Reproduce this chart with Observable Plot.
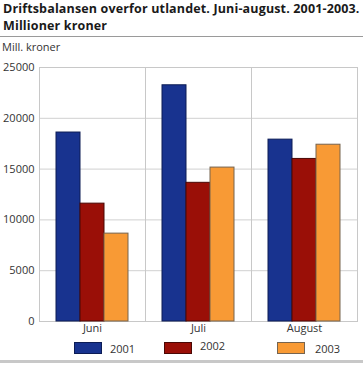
<!DOCTYPE html>
<html>
<head>
<meta charset="utf-8">
<script src="https://cdn.jsdelivr.net/npm/d3@7"></script>
<script src="https://cdn.jsdelivr.net/npm/@observablehq/plot@0.6"></script>
<style>
  html, body { margin: 0; padding: 0; background: #fff; }
  body { width: 363px; height: 371px; position: relative; overflow: hidden; font-family: "Open Sans", sans-serif; color: #222; }
  .title { position: absolute; left: 3px; font-weight: bold; font-size: 12.5px; letter-spacing: 0.15px; line-height: 15px; height: 15px; color: #1a1a1a; white-space: nowrap; }
  #rule { position: absolute; left: 0; top: 36px; width: 363px; height: 1px; background: #9a9a9a; }
  #unit { position: absolute; left: 2px; top: 39px; font-size: 11px; color: #333; }
  #chart { position: absolute; left: 0; top: 55px; }
  .sw { position: absolute; width: 26px; height: 10px; border: 1px solid; top: 342px; }
  .lab { position: absolute; font-size: 11px; top: 340px; color: #333; }
  #bottom { position: absolute; left: 0; top: 360px; width: 363px; height: 3px; background: #c8c8c8; }
</style>
</head>
<body>
<div class="title" style="top:1px">Driftsbalansen overfor utlandet. Juni-august. 2001-2003.</div>
<div class="title" style="top:18px">Millioner kroner</div>
<div id="rule"></div>
<div id="unit">Mill. kroner</div>
<div id="chart"></div>
<div id="legend"></div>
<div id="bottom"></div>
<script>
const months = ["Juni", "Juli", "August"];
const years = ["2001", "2002", "2003"];
const v2001 = [18600, 23250, 17900];
const v2002 = [11600, 13650, 16000];
const v2003 = [8650, 15150, 17400];
const yTicks = [0, 5000, 10000, 15000, 20000, 25000];
const fills = ["#18338f", "#9a0f07", "#f89a35"];
const strokes = ["#0c1c55", "#4a0805", "#76644f"];

const series = [v2001, v2002, v2003];
const data = [];
months.forEach((m, i) => years.forEach((y, j) => data.push({month: m, year: y, value: series[j][i]})));

const plot = Plot.plot({
  width: 363,
  height: 285,
  marginTop: 12,
  marginBottom: 19,
  marginLeft: 38,
  marginRight: 5,
  style: {fontFamily: "Open Sans, sans-serif", fontSize: "11px", color: "#333", background: "#fff"},
  fx: {domain: months, padding: 0, label: null, axis: "bottom", tickSize: 0, tickPadding: 3},
  x: {domain: years, paddingInner: 0, paddingOuter: 0.633, axis: null},
  y: {domain: [0, 25000], ticks: yTicks, tickSize: 0, tickPadding: 5, label: null, tickFormat: d => String(d)},
  color: {domain: years, range: fills},
  marks: [
    Plot.gridY(yTicks, {stroke: "#d0d0d0", strokeOpacity: 1}),
    Plot.frame({stroke: "#c8c8c8"}),
    Plot.barY(data, {fx: "month", x: "year", y: "value", fill: "year", stroke: d => strokes[years.indexOf(d.year)], strokeWidth: 1, inset: 0})
  ]
});
document.getElementById("chart").appendChild(plot);

const legend = document.getElementById("legend");
const swX = [74, 164, 277];
const labX = [110, 200, 315];
years.forEach((y, j) => {
  const s = document.createElement("div");
  s.className = "sw";
  s.style.left = swX[j] + "px";
  s.style.background = fills[j];
  s.style.borderColor = strokes[j];
  legend.appendChild(s);
  const l = document.createElement("div");
  l.className = "lab";
  l.style.left = labX[j] + "px";
  l.style.top = (j === 1 ? 338 : 341) + "px";
  l.textContent = y;
  legend.appendChild(l);
});
</script>
</body>
</html>
